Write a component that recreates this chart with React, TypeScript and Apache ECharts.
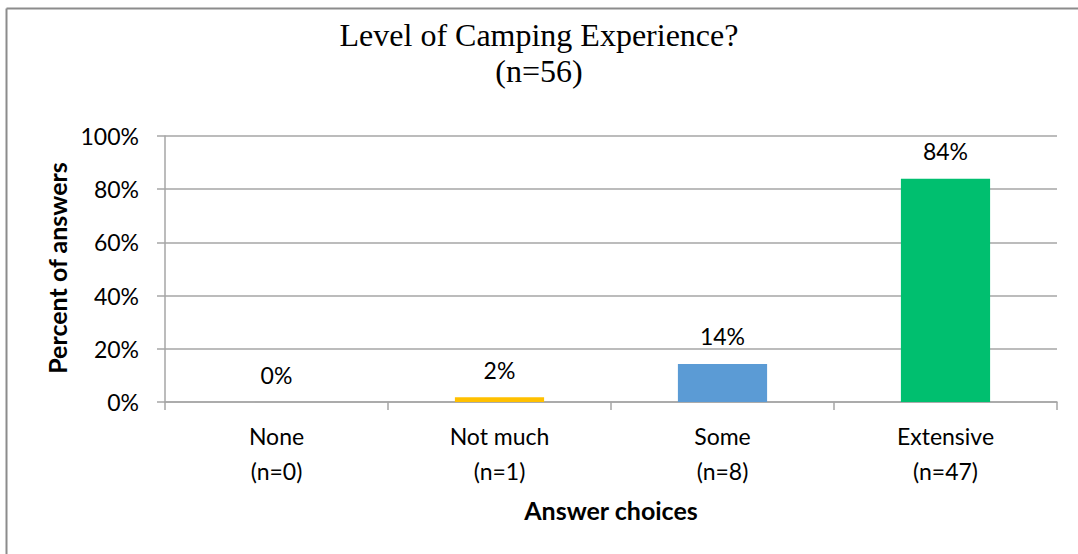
import React, { useEffect, useRef } from "react";
import * as echarts from "echarts";

const categories = ["None\n(n=0)", "Not much\n(n=1)", "Some\n(n=8)", "Extensive\n(n=47)"];
const values = [0, 1.8, 14.3, 83.9];
const barColors = ["#FFC000", "#FFC000", "#5B9BD5", "#00BF6F"];
const yTicks = { min: 0, max: 100, interval: 20 };
const titleLines = ["Level of Camping Experience?", "(n=56)"];
const xTitle = "Answer choices";
const yTitle = "Percent of answers";

const SANS = "Lato, 'Open Sans', sans-serif";
const SERIF = "'Liberation Serif', 'Times New Roman', serif";

export default function App() {
  const ref = useRef<HTMLDivElement>(null);
  useEffect(() => {
    if (!ref.current) return;
    const chart = echarts.init(ref.current, null, { renderer: "svg" });
    chart.setOption({
      animation: false,
      backgroundColor: "#ffffff",
      title: {
        text: titleLines.join("\n"),
        left: "center",
        top: 12,
        textStyle: {
          fontFamily: SERIF,
          fontSize: 32,
          fontWeight: "normal",
          color: "#000000",
          lineHeight: 36,
        },
      },
      graphic: [
        {
          type: "line",
          shape: { x1: 6.5, y1: 8.5, x2: 1078, y2: 8.5 },
          style: { stroke: "#8c8c8c", lineWidth: 2 },
          silent: true,
        },
        {
          type: "line",
          shape: { x1: 6.5, y1: 8.5, x2: 6.5, y2: 554 },
          style: { stroke: "#8c8c8c", lineWidth: 2 },
          silent: true,
        },
        {
          type: "text",
          x: 57,
          y: 268,
          rotation: Math.PI / 2,
          style: {
            text: yTitle,
            fontFamily: SANS,
            fontSize: 25,
            fontWeight: "bold",
            fill: "#000000",
            align: "center",
            verticalAlign: "middle",
          },
        },
        {
          type: "text",
          x: 611,
          y: 510,
          style: {
            text: xTitle,
            fontFamily: SANS,
            fontSize: 25,
            fontWeight: "bold",
            fill: "#000000",
            align: "center",
            verticalAlign: "middle",
          },
        },
      ],
      grid: { left: 165, right: 21, top: 136, bottom: 152, containLabel: false },
      xAxis: {
        type: "category",
        data: categories,
        axisLine: { show: true, lineStyle: { color: "#A6A6A6", width: 1.5 } },
        axisTick: { show: true, length: 8, lineStyle: { color: "#A6A6A6", width: 1.5 } },
        axisLabel: {
          fontFamily: SANS,
          fontSize: 23,
          color: "#000000",
          lineHeight: 35,
          margin: 16,
        },
      },
      yAxis: {
        type: "value",
        min: yTicks.min,
        max: yTicks.max,
        interval: yTicks.interval,
        axisLine: { show: true, lineStyle: { color: "#A6A6A6", width: 1.5 } },
        axisTick: { show: true, length: 8, lineStyle: { color: "#A6A6A6", width: 1.5 } },
        splitLine: { show: true, lineStyle: { color: "#A6A6A6", width: 1.5 } },
        axisLabel: {
          formatter: "{value}%",
          fontFamily: SANS,
          fontSize: 23,
          color: "#000000",
          margin: 26,
        },
      },
      series: [
        {
          type: "bar",
          barWidth: "40%",
          data: values.map((v, i) => ({ value: v, itemStyle: { color: barColors[i] } })),
          label: {
            show: true,
            position: "top",
            distance: 16,
            fontFamily: SANS,
            fontSize: 23,
            color: "#000000",
            formatter: (p: any) => Math.round(p.value) + "%",
          },
        },
      ],
    });
    return () => chart.dispose();
  }, []);
  return (
    <div
      ref={ref}
      style={{ position: "fixed", left: 0, top: 0, width: 1078, height: 554 }}
    />
  );
}
